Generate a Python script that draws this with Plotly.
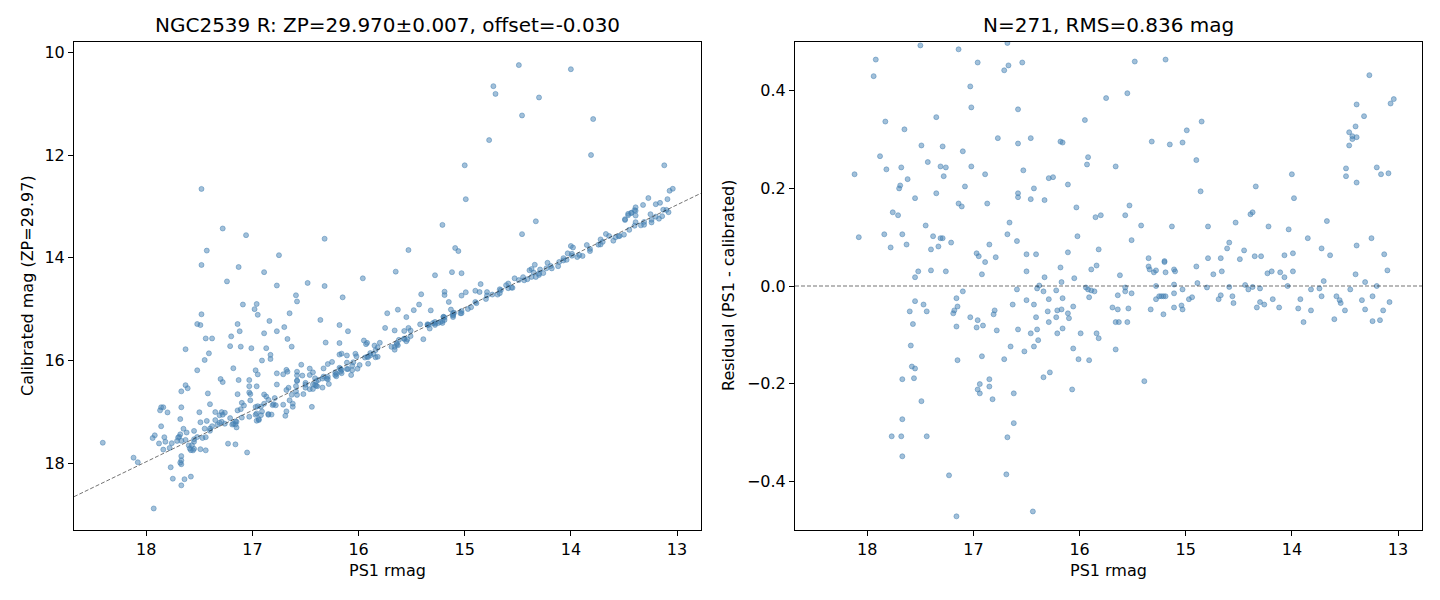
import plotly.graph_objects as go

# --- Data ---
# Stars inside the residual window (PS1 rmag, PS1 - calibrated)
faint_ps1 = [
    17.50, 17.14, 17.92, 17.94, 16.96, 16.68, 16.67, 16.71, 17.03, 17.02,
    17.83, 17.65, 17.35, 16.77, 17.49, 17.29, 17.10, 17.88, 17.43, 17.82,
    17.68, 17.31, 17.26, 17.02, 18.12, 17.62, 17.28, 16.89, 17.69, 17.70,
    17.08, 17.35, 17.55, 17.14, 17.11, 16.87, 17.76, 17.71, 16.66, 17.45,
    18.08, 17.84, 17.67, 17.38, 17.31, 17.29, 16.68, 17.78, 17.63, 17.21,
    17.40, 17.33, 16.85, 16.97, 16.95, 16.79, 16.89, 17.52, 17.40, 17.26,
    17.55, 16.92, 17.10, 17.16, 17.55, 17.47, 17.15, 17.60, 17.44, 17.18,
    17.19, 16.80, 16.81, 17.03, 16.96, 17.57, 17.16, 16.97, 16.91, 16.78,
    17.59, 16.65, 16.92, 17.15, 16.71, 17.58, 17.55, 17.67, 17.56, 16.85,
    16.94, 16.85, 16.96, 16.94, 16.62, 16.82, 17.49, 17.67, 16.62, 17.77,
    17.68, 17.44, 16.68, 17.67, 17.23, 16.69, 17.16,
]
faint_resid = [
    0.493, 0.485, 0.464, 0.430, 0.458, 0.498, 0.452, 0.442, 0.409, 0.366,
    0.337, 0.321, 0.346, 0.303, 0.288, 0.286, 0.276, 0.266, 0.254, 0.239,
    0.243, 0.245, 0.243, 0.245, 0.229, 0.219, 0.225, 0.229, 0.206, 0.200,
    0.204, 0.190, 0.180, 0.169, 0.163, 0.169, 0.151, 0.145, 0.130, 0.124,
    0.100, 0.106, 0.106, 0.102, 0.098, 0.098, 0.106, 0.079, 0.085, 0.089,
    0.075, 0.081, 0.085, 0.067, 0.061, 0.059, 0.049, 0.030, 0.032, 0.030,
    0.018, 0.024, -0.011, -0.025, -0.031, -0.038, -0.042, -0.052, -0.052, -0.050,
    -0.056, -0.050, -0.058, -0.064, -0.070, -0.078, -0.083, -0.085, -0.081, -0.091,
    -0.122, -0.124, -0.144, -0.152, -0.150, -0.165, -0.169, -0.191, -0.189, -0.191,
    -0.201, -0.206, -0.212, -0.220, -0.220, -0.232, -0.236, -0.273, -0.281, -0.308,
    -0.308, -0.308, -0.310, -0.349, -0.388, -0.386, -0.472,
]
mid_ps1 = [
    16.54, 15.48, 15.19, 16.58, 15.75, 15.55, 15.95, 14.85, 14.99, 16.58,
    16.46, 16.18, 16.16, 15.32, 15.15, 15.03, 15.92, 15.93, 15.66, 14.90,
    16.53, 16.29, 16.25, 16.43, 16.11, 16.58, 16.58, 16.46, 16.33, 14.86,
    16.03, 15.53, 15.85, 15.80, 15.57, 15.42, 15.13, 14.79, 16.59, 16.02,
    15.51, 16.50, 16.41, 16.11, 15.82, 16.50, 16.18, 15.89, 15.84, 15.35,
    15.20, 15.20, 14.90, 14.79, 16.33, 16.17, 16.05, 15.62, 15.35, 15.34,
    15.30, 15.28, 15.19, 15.11, 15.10, 14.89, 14.74, 16.38, 16.40, 16.59,
    16.34, 16.22, 15.94, 15.92, 15.89, 15.86, 15.91, 15.57, 15.57, 15.51,
    15.64, 15.28, 15.11, 15.11, 15.03, 14.80, 15.28, 15.25, 15.23, 15.21,
    15.19, 14.97, 14.94, 15.04, 15.11, 15.03, 15.33, 15.21, 16.63, 16.50,
    16.43, 16.29, 16.16, 16.06, 16.41, 16.30, 16.21, 16.17, 16.11, 16.10,
    16.22, 16.29, 15.69, 15.64, 15.54, 15.66, 15.63, 15.55, 16.58, 16.40,
    16.16, 16.46, 16.21, 15.99, 15.84, 15.82, 16.39, 16.43, 16.52, 16.06,
    15.66, 16.01, 15.91, 16.28, 16.34, 16.07, 15.39, 16.44,
]
mid_resid = [
    0.458, 0.460, 0.464, 0.362, 0.385, 0.395, 0.340, 0.337, 0.319, 0.292,
    0.303, 0.296, 0.294, 0.296, 0.290, 0.294, 0.264, 0.249, 0.245, 0.258,
    0.237, 0.221, 0.223, 0.200, 0.208, 0.190, 0.182, 0.178, 0.176, 0.194,
    0.161, 0.165, 0.141, 0.145, 0.145, 0.124, 0.122, 0.122, 0.092, 0.102,
    0.094, 0.065, 0.065, 0.069, 0.075, 0.030, 0.038, 0.034, 0.042, 0.057,
    0.051, 0.049, 0.040, 0.057, 0.018, 0.008, 0.016, 0.022, 0.040, 0.034,
    0.028, 0.032, 0.028, 0.034, 0.030, 0.006, 0.024, 0.001, -0.005, -0.007,
    -0.011, -0.009, -0.003, -0.007, -0.009, -0.011, -0.023, -0.003, -0.011, -0.015,
    -0.019, 0.000, 0.003, -0.015, -0.007, -0.003, -0.027, -0.021, -0.021, -0.021,
    -0.021, -0.027, -0.023, -0.040, -0.044, -0.048, -0.048, -0.058, -0.038, -0.029,
    -0.038, -0.027, -0.025, -0.042, -0.064, -0.052, -0.050, -0.048, -0.056, -0.066,
    -0.064, -0.074, -0.044, -0.048, -0.046, -0.074, -0.074, -0.074, -0.089, -0.089,
    -0.087, -0.097, -0.097, -0.097, -0.097, -0.107, -0.111, -0.124, -0.134, -0.128,
    -0.130, -0.150, -0.152, -0.177, -0.187, -0.212, -0.195, -0.462,
]
bright_ps1 = [
    13.27, 13.39, 13.07, 13.04, 13.32, 13.40, 13.46, 13.43, 13.43, 13.39,
    13.46, 13.49, 13.49, 13.39, 13.20, 13.16, 13.09, 14.00, 14.34, 13.98,
    14.39, 14.37, 14.53, 14.22, 14.03, 13.67, 13.85, 13.39, 13.25, 14.59,
    14.61, 14.45, 13.72, 14.67, 14.49, 14.35, 14.29, 14.07, 13.99, 13.64, 13.13,
    14.66, 14.23, 14.19, 14.11, 14.07, 13.99, 13.70, 13.40, 13.31, 13.10,
    14.59, 14.44, 14.41, 14.37, 14.30, 14.04, 13.82, 13.74, 13.45, 13.20,
    14.69, 14.67, 14.56, 14.55, 14.33, 14.30, 14.26, 14.18, 14.12, 13.94,
    13.92, 13.89, 13.82, 13.72, 13.60, 13.58, 13.55, 13.54, 13.50, 13.34,
    13.31, 13.24, 13.24, 13.17, 13.14, 13.08,
]
bright_resid = [
    0.432, 0.372, 0.374, 0.383, 0.348, 0.327, 0.315, 0.307, 0.301, 0.305,
    0.288, 0.241, 0.225, 0.212, 0.243, 0.229, 0.231, 0.229, 0.204, 0.180,
    0.147, 0.151, 0.130, 0.122, 0.116, 0.133, 0.098, 0.083, 0.098, 0.089,
    0.077, 0.073, 0.077, 0.057, 0.055, 0.061, 0.061, 0.063, 0.067, 0.063, 0.065,
    0.030, 0.026, 0.030, 0.028, 0.018, 0.030, 0.010, 0.024, 0.008, 0.032,
    -0.002, 0.002, -0.007, -0.002, -0.005, 0.000, -0.007, -0.005, -0.007, 0.000,
    -0.027, -0.019, -0.021, -0.035, -0.044, -0.033, -0.038, -0.027, -0.044, -0.046,
    -0.027, -0.074, -0.050, -0.021, -0.068, -0.021, -0.029, -0.035, -0.050, -0.029,
    -0.048, -0.021, -0.072, -0.070, -0.050, -0.033,
]
# Stars far from the 1:1 line (off the residual plot)
outlier_ps1 = [
    17.09, 16.96, 16.98, 16.95, 16.65, 17.48, 17.52, 17.49, 17.14, 16.84,
    16.70, 17.12, 16.77, 17.44, 17.38, 17.20, 16.89, 16.67, 17.63, 17.41,
    17.21, 17.11, 17.01, 16.87, 16.63, 17.45, 16.83, 16.83, 16.91, 17.52,
    17.18, 16.97, 16.95, 16.77, 17.30, 17.28, 17.13, 17.03, 17.03, 17.63,
    17.61, 17.67, 17.42, 17.86, 17.84, 17.87, 17.80, 17.67, 17.40, 17.68,
    17.86, 18.41, 17.75, 17.67, 17.64, 17.58, 17.93, 17.05, 17.48, 17.28,
    17.06, 17.43, 16.75, 17.48, 17.13, 16.89, 17.24, 16.77, 16.32, 15.53,
    15.09, 15.06, 15.65, 15.96, 15.28, 15.12, 15.03, 16.48, 16.32, 16.15,
    16.59, 16.58, 15.41, 15.19, 16.36, 16.18, 16.10, 15.73, 15.63, 15.43,
    16.31, 16.18, 14.49, 14.00, 14.73, 14.71, 14.30, 14.46, 13.79, 14.77,
    13.81, 15.00, 13.12, 14.99, 15.21, 14.33, 14.46,
]
outlier_resid = [
    2.18, 2.06, 1.98, 1.84, 1.57, 2.38, 2.23, 2.18, 1.85, 1.61,
    1.35, 1.69, 1.34, 1.87, 1.81, 1.67, 1.42, 1.09, 1.85, 1.55,
    1.49, 1.38, 1.25, 1.11, 0.90, 1.46, 0.94, 0.86, 0.91, 1.33,
    1.03, 0.78, 0.68, 0.52, 0.94, 0.86, 0.75, 0.65, 0.53, 1.15,
    1.07, 1.07, 0.78, 0.95, 0.93, 0.90, 0.79, 0.76, 0.55, 0.54,
    0.58, 0.81, -0.55, -0.76, -0.67, -0.68, -0.95, -0.74, 4.82, 3.85,
    3.50, 3.57, 2.80, 3.34, 2.95, 2.61, 2.78, 2.23, 2.69, 1.68,
    1.28, 1.19, 1.38, 1.56, 0.94, 0.84, 0.73, 1.99, 1.77, 1.38,
    1.86, 1.73, 0.70, 0.53, 1.15, 0.87, 0.67, 0.65, 0.62, 0.52,
    0.66, 0.52, 4.24, 3.67, 4.07, 3.90, 3.42, 3.23, 2.49, 3.06,
    1.81, 2.80, 0.92, 2.13, 1.85, 1.04, 0.92,
]

# Fit summary shown in the titles
FIELD = "NGC2539"
FILTER = "R"
ZP = 29.970
ZP_ERR = 0.007
OFFSET = -0.030
N_STARS = 271
RMS = 0.836

# --- Axis limits (matplotlib autoscaled, inverted magnitudes) ---
X_RANGE = [18.681, 12.774]
Y_RANGE_CAL = [19.299, 9.800]
Y_RANGE_RES = [-0.5, 0.5]

FONT = "DejaVu Sans"
POINT_FILL = "rgba(70,130,180,0.5)"
REF_LINE = dict(color="rgba(0,0,0,0.55)", width=1, dash="4px,2px")

ps1 = faint_ps1 + mid_ps1 + bright_ps1 + outlier_ps1
resid = faint_resid + mid_resid + bright_resid + outlier_resid
# residual is PS1 - calibrated, so the left panel shows calibrated = PS1 - residual
calibrated = [m - r for m, r in zip(ps1, resid)]

fig = go.Figure()

marker = dict(size=5, color=POINT_FILL, line=dict(width=1, color=POINT_FILL))

fig.add_trace(go.Scatter(x=ps1, y=calibrated, mode="markers", marker=marker,
                         xaxis="x", yaxis="y", showlegend=False))
# 1:1 line shifted by the fitted offset
fig.add_trace(go.Scatter(x=X_RANGE, y=[X_RANGE[0] + OFFSET, X_RANGE[1] + OFFSET],
                         mode="lines", line=REF_LINE, xaxis="x", yaxis="y",
                         showlegend=False, hoverinfo="skip"))

fig.add_trace(go.Scatter(x=ps1, y=resid, mode="markers", marker=marker,
                         xaxis="x2", yaxis="y2", showlegend=False))
fig.add_trace(go.Scatter(x=X_RANGE, y=[0, 0], mode="lines", line=REF_LINE,
                         xaxis="x2", yaxis="y2", showlegend=False, hoverinfo="skip"))

W, H = 1440, 600
left_dom = [74 / W, 701 / W]
right_dom = [795 / W, 1422 / W]
y_dom = [1 - 530 / H, 1 - 42 / H]

axis_style = dict(
    showline=True, linecolor="black", linewidth=1, mirror=True,
    ticks="outside", ticklen=5, tickwidth=1, tickcolor="black",
    showgrid=False, zeroline=False,
    tickfont=dict(family=FONT, size=16, color="black"),
)

fig.update_layout(
    width=W, height=H,
    margin=dict(l=0, r=0, t=0, b=0),
    paper_bgcolor="white", plot_bgcolor="white",
    font=dict(family=FONT, color="black"),
    xaxis=dict(domain=left_dom, anchor="y", range=X_RANGE, dtick=1, **axis_style),
    yaxis=dict(domain=y_dom, anchor="x", range=Y_RANGE_CAL, dtick=2, **axis_style),
    xaxis2=dict(domain=right_dom, anchor="y2", range=X_RANGE, dtick=1, **axis_style),
    yaxis2=dict(domain=y_dom, anchor="x2", range=Y_RANGE_RES,
                tickvals=[-0.4, -0.2, 0.0, 0.2, 0.4], tickformat=".1f", **axis_style),
)

left_title = f"{FIELD} {FILTER}: ZP={ZP:.3f}\u00b1{ZP_ERR:.3f}, offset={OFFSET:.3f}"
right_title = f"N={N_STARS}, RMS={RMS:.3f} mag"

texts = [
    (left_title, (left_dom[0] + left_dom[1]) / 2, 1 - 25 / H, 0, 20),
    (right_title, (right_dom[0] + right_dom[1]) / 2, 1 - 25 / H, 0, 20),
    ("PS1 rmag", (left_dom[0] + left_dom[1]) / 2, 1 - 570 / H, 0, 16),
    ("PS1 rmag", (right_dom[0] + right_dom[1]) / 2, 1 - 570 / H, 0, 16),
    ("Calibrated mag (ZP=29.97)", 27 / W, (y_dom[0] + y_dom[1]) / 2, -90, 16),
    ("Residual (PS1 - calibrated)", 728 / W, (y_dom[0] + y_dom[1]) / 2, -90, 16),
]
for text, x, y, angle, size in texts:
    fig.add_annotation(text=text, x=x, y=y, xref="paper", yref="paper",
                       xanchor="center", yanchor="middle", textangle=angle,
                       showarrow=False, font=dict(family=FONT, size=size, color="black"))

# drop the browser's default body margin so the 1440x600 figure fills the window exactly
fig.write_html("out.html", config={"displayModeBar": False},
               post_script="document.body.style.margin = '0px';")
